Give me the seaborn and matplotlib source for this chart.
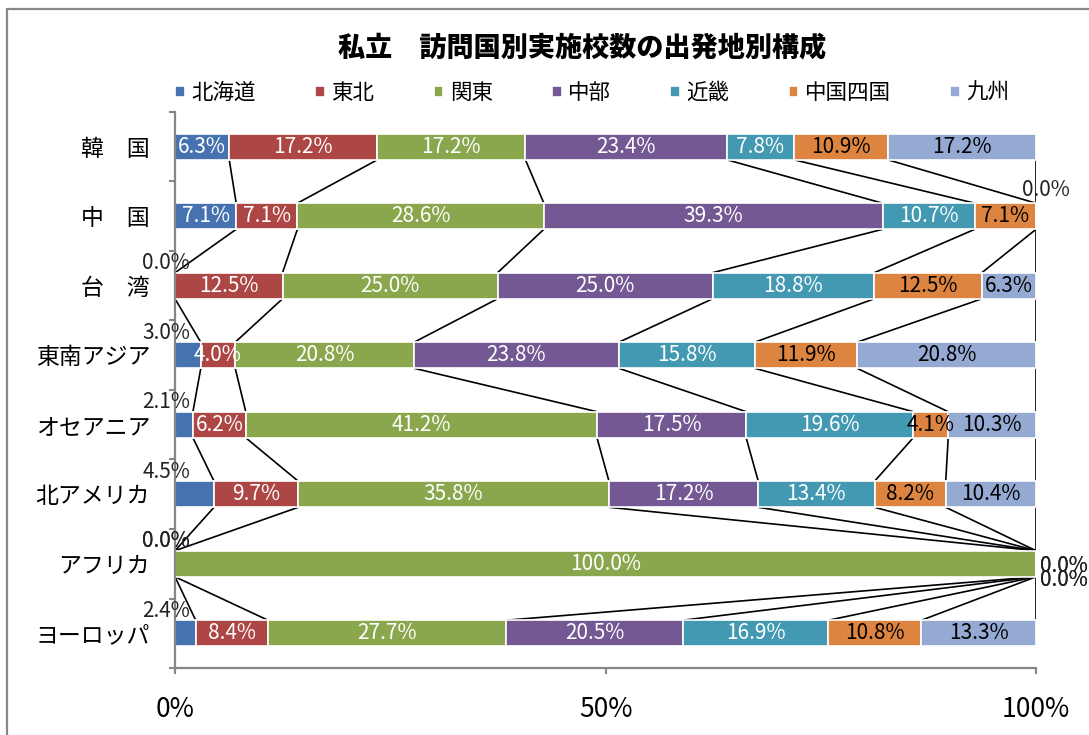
import numpy as np
import pandas as pd
import matplotlib
matplotlib.use("Agg")
import matplotlib.pyplot as plt
import seaborn as sns
from matplotlib.lines import Line2D

# 訪問国（上から順）
countries = ["韓　国", "中　国", "台　湾", "東南アジア", "オセアニア", "北アメリカ", "アフリカ", "ヨーロッパ"]
# 出発地
regions = ["北海道", "東北", "関東", "中部", "近畿", "中国四国", "九州"]

hokkaido = [6.3, 7.1, 0.0, 3.0, 2.1, 4.5, 0.0, 2.4]
tohoku = [17.2, 7.1, 12.5, 4.0, 6.2, 9.7, 0.0, 8.4]
kanto = [17.2, 28.6, 25.0, 20.8, 41.2, 35.8, 100.0, 27.7]
chubu = [23.4, 39.3, 25.0, 23.8, 17.5, 17.2, 0.0, 20.5]
kinki = [7.8, 10.7, 18.8, 15.8, 19.6, 13.4, 0.0, 16.9]
chushikoku = [10.9, 7.1, 12.5, 11.9, 4.1, 8.2, 0.0, 10.8]
kyushu = [17.2, 0.0, 6.3, 20.8, 10.3, 10.4, 0.0, 13.3]

colors = ["#4673b0", "#ad4745", "#8aa74e", "#745893", "#4399b1", "#dd8540", "#94aad2"]
txt_colors = ["white"] * 5 + ["black"] * 2

sns.set_theme(style="white")
plt.rcParams["font.family"] = ["Noto Sans CJK JP", "DejaVu Sans"]
plt.rcParams["text.color"] = "black"
num_font = ["Liberation Sans Narrow", "Noto Sans CJK JP", "DejaVu Sans"]

df = pd.DataFrame(dict(zip(regions, [hokkaido, tohoku, kanto, chubu, kinki, chushikoku, kyushu])))
df.insert(0, "country", countries)

# 100%積み上げ用に正規化
share = df[regions].div(df[regions].sum(axis=1), axis=0) * 100
left = share.cumsum(axis=1) - share
bounds = share.cumsum(axis=1).values

fig = plt.figure(figsize=(10.89, 7.35), dpi=100)
ax = fig.add_axes([175 / 1089, 67 / 735, 861 / 1089, 556 / 735])

bar_w = 0.375
for k, r in enumerate(regions):
    d = pd.DataFrame({"country": countries, "share": share[r].values})
    sns.barplot(data=d, x="share", y="country", order=countries, orient="y",
                color=colors[k], width=bar_w, left=left[r].values,
                edgecolor="white", linewidth=1.2, errorbar=None,
                saturation=1, label=r, ax=ax, zorder=2)

# 区分線
for i in range(len(countries) - 1):
    for k in range(len(regions)):
        ax.plot([bounds[i, k], bounds[i + 1, k]], [i + bar_w / 2, i + 1 - bar_w / 2],
                color="black", lw=1.2, zorder=1)

# データラベル
for i, c in enumerate(countries):
    side = 0
    for k, r in enumerate(regions):
        v = df.loc[i, r]
        x0 = left.iloc[i, k]
        wd = share.iloc[i, k]
        lab = f"{v:.1f}%"
        if (k > 0 and v > 0) or v >= 5:
            ax.text(x0 + wd / 2, i, lab, ha="center", va="center",
                    color=txt_colors[k], fontsize=15, family=num_font, zorder=3)
        elif x0 < 50:
            ax.text(-1.0, i - bar_w / 2 - 0.05, lab, ha="center", va="baseline",
                    color="#222222", fontsize=15, family=num_font)
        elif c == "アフリカ":
            ax.text(100.5, i + 0.03 + 0.2 * (side % 2), lab, ha="left", va="center",
                    color="#222222", fontsize=15, family=num_font)
            side += 1
        else:
            ax.text(101.2, i - bar_w / 2 - 0.1, lab, ha="center", va="baseline",
                    color="#222222", fontsize=15, family=num_font)

ax.set_xlim(0, 100)
ax.set_ylim(len(countries) - 0.5, -0.5)
ax.set_xticks([0, 50, 100])
ax.set_xticklabels(["0%", "50%", "100%"], family=num_font, fontsize=19)
ax.set_yticks(range(len(countries)))
ax.set_yticklabels(countries, fontsize=16.5)
ax.set_yticks(np.arange(-0.5, len(countries), 1), minor=True)
ax.set_xlabel("")
ax.set_ylabel("")
ax.tick_params(axis="x", length=4.5, width=1.5, color="#868686", labelcolor="black",
               pad=16, direction="out", bottom=True)
ax.tick_params(axis="y", which="major", length=0, pad=18, labelcolor="black")
ax.tick_params(axis="y", which="minor", length=4, width=1.5, color="#868686", direction="out", left=True)
sns.despine(ax=ax)
for s in ["left", "bottom"]:
    ax.spines[s].set_color("#868686")
    ax.spines[s].set_linewidth(1.6)
if ax.get_legend():
    ax.get_legend().remove()

handles, labels = ax.get_legend_handles_labels()
leg = fig.legend(handles, labels, loc="center left", bbox_to_anchor=(156 / 1089, 1 - 93 / 735),
                 ncol=7, frameon=False, fontsize=15.5, handlelength=0.45, handleheight=0.45,
                 handletextpad=0.3, columnspacing=2.75)
for t in leg.get_texts():
    t.set_color("black")

fig.text(582 / 1089, 1 - 47 / 735, "私立　訪問国別実施校数の出発地別構成",
         ha="center", va="center", fontsize=19.5, fontweight="heavy", color="black")

# 外枠
fig.add_artist(Line2D([7 / 1089, 7 / 1089], [0, 1 - 9 / 735], color="#888888", lw=1.6))
fig.add_artist(Line2D([7 / 1089, 1], [1 - 9 / 735, 1 - 9 / 735], color="#888888", lw=1.6))

fig.savefig("out.png", dpi=100)
